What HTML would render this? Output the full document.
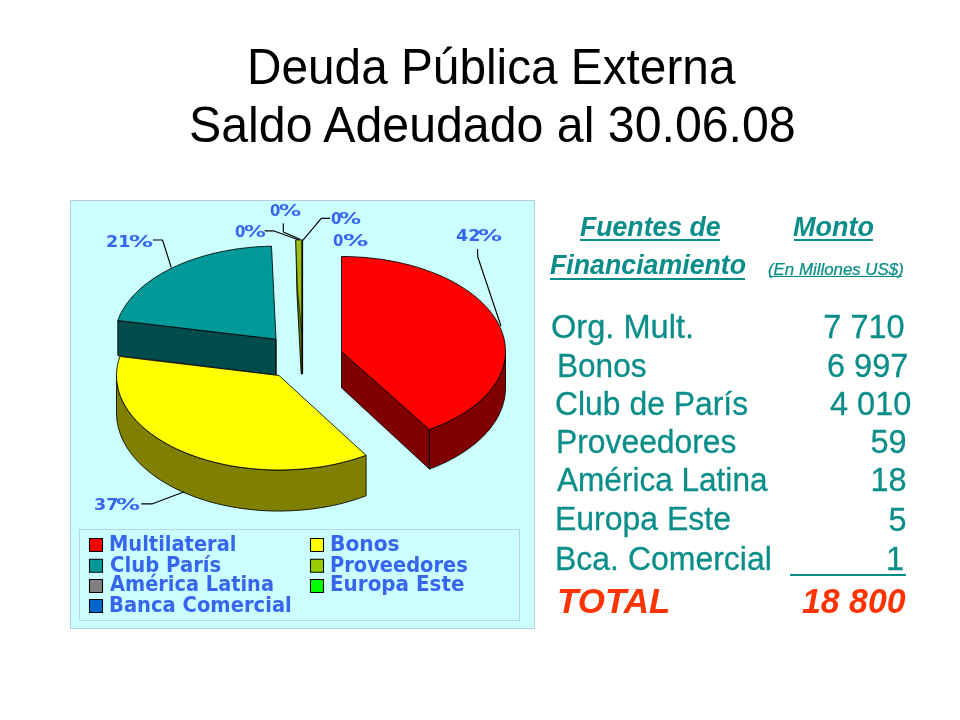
<!DOCTYPE html>
<html lang="es"><head><meta charset="utf-8"><title>Deuda Pública Externa</title>
<style>
html,body{margin:0;padding:0;background:#fff}
body{width:960px;height:720px;position:relative;overflow:hidden}
.chart{position:absolute;left:0;top:0}
.t{position:absolute;line-height:1;white-space:pre;transform-origin:0 0}
.u{position:absolute;background:#0b8e89}
</style></head><body>
<svg class="chart" width="960" height="720" viewBox="0 0 960 720">
<rect x="70.5" y="200.5" width="464" height="428" fill="#ccffff" stroke="#b9cde2"/>
<rect x="79.5" y="529.5" width="440" height="91" fill="none" stroke="#b6d6e8"/>
<g stroke="#000" stroke-width="0.85" stroke-linejoin="round">
<path d="M276.0,339.2 L117.8,320.5 L117.8,355.6 L276.0,375.0 Z" fill="#004c4c"/>
<path d="M276.0,339.2 L276.0,375.0" />
<path d="M276.0,339.2 L117.8,320.5 L118.6,318.5 L119.4,316.4 L120.3,314.4 L121.3,312.4 L122.4,310.5 L123.6,308.5 L124.8,306.5 L126.1,304.6 L127.5,302.7 L128.9,300.8 L130.5,298.9 L132.1,297.0 L133.7,295.2 L135.5,293.4 L137.3,291.6 L139.2,289.8 L141.1,288.1 L143.1,286.3 L145.2,284.6 L147.4,283.0 L149.6,281.3 L151.9,279.7 L154.2,278.1 L156.6,276.6 L159.0,275.1 L161.6,273.6 L164.1,272.1 L166.8,270.7 L169.5,269.3 L172.2,268.0 L175.0,266.6 L177.8,265.4 L180.7,264.1 L183.6,262.9 L186.6,261.7 L189.7,260.6 L192.7,259.5 L195.8,258.5 L199.0,257.5 L202.2,256.5 L205.4,255.6 L208.7,254.7 L212.0,253.8 L215.3,253.0 L218.7,252.3 L222.0,251.5 L225.5,250.9 L228.9,250.2 L232.4,249.7 L235.8,249.1 L239.3,248.6 L242.9,248.2 L246.4,247.8 L250.0,247.4 L253.5,247.1 L257.1,246.8 L260.7,246.6 L264.3,246.4 L267.9,246.3 L271.5,246.2 Z" fill="#009999"/>
<path d="M295.8,240 L302.3,240 L302.3,374 L301.2,374 L296.9,292 Z" fill="#5f7800"/>
<path d="M295.8,240 L302.3,240 L302,334 L297.6,290 Z" fill="#9dbe14" stroke-width="0.6"/>
<path d="M302.3,240 L302.3,374" stroke-width="1.6"/>
<path d="M366.1,455.3 L361.1,457.0 L356.1,458.7 L350.9,460.2 L345.7,461.7 L340.4,463.0 L335.0,464.2 L329.5,465.3 L324.0,466.3 L318.4,467.2 L312.8,467.9 L307.1,468.6 L301.4,469.1 L295.6,469.5 L289.9,469.8 L284.1,470.0 L278.3,470.0 L272.5,469.9 L266.8,469.7 L261.0,469.4 L255.3,469.0 L249.6,468.4 L243.9,467.8 L238.3,467.0 L232.7,466.1 L227.2,465.1 L221.7,463.9 L216.3,462.7 L211.0,461.3 L205.8,459.9 L200.7,458.3 L195.7,456.6 L190.8,454.9 L186.0,453.0 L181.3,451.0 L176.7,448.9 L172.3,446.8 L168.0,444.5 L163.9,442.2 L159.8,439.8 L156.0,437.2 L152.3,434.7 L148.7,432.0 L145.4,429.3 L142.2,426.5 L139.1,423.6 L136.3,420.7 L133.6,417.7 L131.1,414.7 L128.8,411.6 L126.7,408.4 L124.8,405.3 L123.0,402.1 L121.5,398.8 L120.2,395.5 L119.1,392.2 L118.1,388.9 L117.4,385.6 L116.9,382.2 L116.6,378.9 L116.5,375.5 L116.5,412.8 L116.6,416.3 L116.9,419.8 L117.4,423.3 L118.1,426.7 L119.1,430.2 L120.2,433.6 L121.5,437.0 L123.0,440.4 L124.8,443.7 L126.7,447.0 L128.8,450.3 L131.1,453.5 L133.6,456.7 L136.3,459.8 L139.1,462.8 L142.2,465.8 L145.4,468.7 L148.7,471.5 L152.3,474.3 L156.0,477.0 L159.8,479.6 L163.9,482.1 L168.0,484.6 L172.3,486.9 L176.7,489.2 L181.3,491.3 L186.0,493.4 L190.8,495.3 L195.7,497.2 L200.7,498.9 L205.8,500.5 L211.0,502.1 L216.3,503.5 L221.7,504.8 L227.2,505.9 L232.7,507.0 L238.3,507.9 L243.9,508.7 L249.6,509.4 L255.3,510.0 L261.0,510.5 L266.8,510.8 L272.5,511.0 L278.3,511.1 L284.1,511.0 L289.9,510.8 L295.6,510.5 L301.4,510.1 L307.1,509.6 L312.8,508.9 L318.4,508.1 L324.0,507.2 L329.5,506.2 L335.0,505.0 L340.4,503.8 L345.7,502.4 L350.9,500.9 L356.1,499.3 L361.1,497.6 L366.1,495.8 Z" fill="#808000"/>
<path d="M279.0,375.5 L366.1,455.3 L360.7,457.2 L355.1,459.0 L349.5,460.7 L343.7,462.2 L337.9,463.6 L331.9,464.9 L325.9,466.0 L319.8,467.0 L313.6,467.8 L307.4,468.5 L301.1,469.1 L294.9,469.5 L288.5,469.8 L282.2,470.0 L275.9,470.0 L269.6,469.8 L263.2,469.6 L256.9,469.1 L250.7,468.6 L244.5,467.8 L238.3,467.0 L232.2,466.0 L226.2,464.9 L220.2,463.6 L214.4,462.2 L208.6,460.7 L203.0,459.0 L197.4,457.2 L192.0,455.3 L186.7,453.3 L181.6,451.1 L176.6,448.9 L171.7,446.5 L167.1,444.0 L162.6,441.4 L158.2,438.7 L154.1,435.9 L150.1,433.1 L146.4,430.1 L142.8,427.1 L139.5,423.9 L136.3,420.7 L133.4,417.5 L130.7,414.1 L128.2,410.7 L126.0,407.3 L124.0,403.8 L122.2,400.3 L120.6,396.7 L119.3,393.1 L118.3,389.5 L117.5,385.8 L116.9,382.1 L116.6,378.5 L116.5,374.8 L116.7,371.1 L117.1,367.4 L117.8,363.8 L118.7,360.1 L119.8,356.5 Z" fill="#ffff00"/>
<path d="M341.5,351.5 L429.4,429.6 L429.4,469.0 L341.5,387.8 Z" fill="#800000"/>
<path d="M505.5,351.5 L505.5,353.0 L505.4,354.6 L505.3,356.1 L505.1,357.7 L504.9,359.2 L504.7,360.8 L504.4,362.3 L504.0,363.9 L503.6,365.4 L503.2,366.9 L502.7,368.5 L502.2,370.0 L501.6,371.5 L501.0,373.0 L500.3,374.5 L499.6,376.0 L498.9,377.5 L498.1,379.0 L497.3,380.5 L496.4,381.9 L495.5,383.4 L494.5,384.8 L493.5,386.3 L492.4,387.7 L491.3,389.1 L490.2,390.5 L489.0,391.9 L487.8,393.3 L486.5,394.7 L485.2,396.1 L483.9,397.4 L482.5,398.8 L481.1,400.1 L479.6,401.4 L478.1,402.7 L476.6,404.0 L475.0,405.2 L473.4,406.5 L471.7,407.7 L470.0,409.0 L468.3,410.2 L466.5,411.4 L464.7,412.5 L462.9,413.7 L461.1,414.8 L459.2,415.9 L457.2,417.0 L455.3,418.1 L453.3,419.2 L451.2,420.2 L449.2,421.3 L447.1,422.3 L445.0,423.3 L442.8,424.2 L440.7,425.2 L438.5,426.1 L436.2,427.0 L434.0,427.9 L431.7,428.8 L429.4,429.6 L429.4,469.0 L431.7,468.2 L434.0,467.3 L436.2,466.4 L438.5,465.4 L440.7,464.4 L442.8,463.5 L445.0,462.5 L447.1,461.4 L449.2,460.4 L451.2,459.3 L453.3,458.2 L455.3,457.1 L457.2,456.0 L459.2,454.8 L461.1,453.7 L462.9,452.5 L464.7,451.3 L466.5,450.1 L468.3,448.8 L470.0,447.6 L471.7,446.3 L473.4,445.0 L475.0,443.7 L476.6,442.4 L478.1,441.1 L479.6,439.7 L481.1,438.3 L482.5,437.0 L483.9,435.6 L485.2,434.2 L486.5,432.7 L487.8,431.3 L489.0,429.9 L490.2,428.4 L491.3,426.9 L492.4,425.5 L493.5,424.0 L494.5,422.5 L495.5,421.0 L496.4,419.5 L497.3,417.9 L498.1,416.4 L498.9,414.9 L499.6,413.3 L500.3,411.7 L501.0,410.2 L501.6,408.6 L502.2,407.0 L502.7,405.5 L503.2,403.9 L503.6,402.3 L504.0,400.7 L504.4,399.1 L504.7,397.5 L504.9,395.9 L505.1,394.3 L505.3,392.7 L505.4,391.0 L505.5,389.4 L505.5,387.8 Z" fill="#800000"/>
<path d="M341.5,351.5 L341.5,256.5 L348.5,256.6 L355.6,256.9 L362.6,257.3 L369.5,257.9 L376.4,258.7 L383.3,259.6 L390.1,260.8 L396.7,262.0 L403.3,263.5 L409.8,265.1 L416.1,266.9 L422.3,268.8 L428.4,270.9 L434.2,273.2 L440.0,275.5 L445.5,278.0 L450.9,280.7 L456.0,283.5 L460.9,286.4 L465.6,289.4 L470.1,292.6 L474.4,295.8 L478.4,299.2 L482.1,302.6 L485.6,306.2 L488.9,309.8 L491.8,313.5 L494.5,317.3 L496.9,321.1 L499.0,325.0 L500.8,328.9 L502.3,332.9 L503.6,336.9 L504.5,341.0 L505.1,345.0 L505.4,349.1 L505.5,353.1 L505.2,357.1 L504.6,361.1 L503.7,365.0 L502.6,368.9 L501.1,372.8 L499.3,376.7 L497.3,380.5 L494.9,384.2 L492.3,387.9 L489.4,391.5 L486.2,395.0 L482.7,398.5 L479.0,401.9 L475.1,405.2 L470.9,408.3 L466.4,411.4 L461.8,414.4 L456.9,417.2 L451.7,420.0 L446.4,422.6 L440.9,425.1 L435.2,427.4 L429.4,429.6 Z" fill="#ff0000"/>
<path d="M477.5,249 L477.8,257 L501,326" fill="none" stroke-width="1.15"/>
<path d="M153,240 L162.5,240 L171.3,267.5" fill="none" stroke-width="1.15"/>
<path d="M141.3,503.8 L152.5,503.8 L184.3,491.8" fill="none" stroke-width="1.15"/>
<path d="M264.7,230.8 L273.3,230.8 L298.3,239.7" fill="none" stroke-width="1.15"/>
<path d="M283.3,223.3 L283.3,232 L300,239.2" fill="none" stroke-width="1.15"/>
<path d="M330,218.3 L321.3,218.3 L302.8,240.3" fill="none" stroke-width="1.15"/>
<rect x="89.5" y="538.5" width="13" height="13" fill="#ff0000" stroke-width="1.1"/><rect x="89.5" y="559.2" width="13" height="13" fill="#009999" stroke-width="1.1"/><rect x="89.5" y="579.5" width="13" height="13" fill="#808080" stroke-width="1.1"/><rect x="89.5" y="599.5" width="13" height="13" fill="#0066cc" stroke-width="1.1"/><rect x="310.5" y="538.5" width="13" height="13" fill="#ffff00" stroke-width="1.1"/><rect x="310.5" y="559.2" width="13" height="13" fill="#99cc00" stroke-width="1.1"/><rect x="310.5" y="579.5" width="13" height="13" fill="#00ff00" stroke-width="1.1"/>
</g>
</svg>
<div class="u" style="left:580px;width:140.0px;top:239px;height:2px"></div><div class="u" style="left:550px;width:194.7px;top:278px;height:2px"></div><div class="u" style="left:793.5px;width:79.3px;top:239px;height:2px"></div><div class="u" style="left:768.7px;width:133.6px;top:276.3px;height:1px"></div><div class="u" style="left:790px;width:116.0px;top:573.5px;height:2px"></div>
<span class="t" style="left:247.12px;top:41.90px;color:#000;font-family:'Liberation Sans',sans-serif;font-size:50.5px;transform:scaleX(0.9456)">Deuda Pública Externa</span>
<span class="t" style="left:188.83px;top:99.70px;color:#000;font-family:'Liberation Sans',sans-serif;font-size:50.5px;transform:scaleX(0.9560)">Saldo Adeudado al 30.06.08</span>
<span class="t" style="left:580.15px;top:212.50px;color:#0b8e89;font-family:'Liberation Sans',sans-serif;font-size:28px;font-weight:bold;font-style:italic;transform:scaleX(0.9514)">Fuentes de</span>
<span class="t" style="left:549.95px;top:251.40px;color:#0b8e89;font-family:'Liberation Sans',sans-serif;font-size:28px;font-weight:bold;font-style:italic;transform:scaleX(0.9547)">Financiamiento</span>
<span class="t" style="left:793.14px;top:212.50px;color:#0b8e89;font-family:'Liberation Sans',sans-serif;font-size:28px;font-weight:bold;font-style:italic;transform:scaleX(0.9646)">Monto</span>
<span class="t" style="left:767.57px;top:260.60px;color:#0b8e89;font-family:'Liberation Sans',sans-serif;font-size:16.4px;font-style:italic;-webkit-text-stroke:0.25px #0b8e89;transform:scaleX(1.0277)">(En Millones US$)</span>
<span class="t" style="left:550.70px;top:311.30px;color:#0b8e89;font-family:'Liberation Sans',sans-serif;font-size:32.5px;-webkit-text-stroke:0.3px #0b8e89;transform:scaleX(1.0022)">Org. Mult.</span>
<span class="t" style="left:556.59px;top:349.50px;color:#0b8e89;font-family:'Liberation Sans',sans-serif;font-size:32.5px;-webkit-text-stroke:0.3px #0b8e89;transform:scaleX(0.9716)">Bonos</span>
<span class="t" style="left:554.74px;top:388.10px;color:#0b8e89;font-family:'Liberation Sans',sans-serif;font-size:32.5px;-webkit-text-stroke:0.3px #0b8e89;transform:scaleX(0.9809)">Club de París</span>
<span class="t" style="left:555.81px;top:426.10px;color:#0b8e89;font-family:'Liberation Sans',sans-serif;font-size:32.5px;-webkit-text-stroke:0.3px #0b8e89;transform:scaleX(0.9792)">Proveedores</span>
<span class="t" style="left:556.80px;top:463.90px;color:#0b8e89;font-family:'Liberation Sans',sans-serif;font-size:32.5px;-webkit-text-stroke:0.3px #0b8e89;transform:scaleX(0.9710)">América Latina</span>
<span class="t" style="left:555.45px;top:503.10px;color:#0b8e89;font-family:'Liberation Sans',sans-serif;font-size:32.5px;-webkit-text-stroke:0.3px #0b8e89;transform:scaleX(0.9839)">Europa Este</span>
<span class="t" style="left:555.45px;top:542.80px;color:#0b8e89;font-family:'Liberation Sans',sans-serif;font-size:32.5px;-webkit-text-stroke:0.3px #0b8e89;transform:scaleX(0.9842)">Bca. Comercial</span>
<span class="t" style="left:557.47px;top:583.60px;color:#ff3300;font-family:'Liberation Sans',sans-serif;font-size:35.8px;font-weight:bold;font-style:italic;transform:scaleX(0.9766)">TOTAL</span>
<span class="t" style="left:823.30px;top:311.00px;color:#0b8e89;font-family:'Liberation Sans',sans-serif;font-size:32.5px;-webkit-text-stroke:0.3px #0b8e89;transform:scaleX(1.0000)">7 710</span>
<span class="t" style="left:827.00px;top:349.50px;color:#0b8e89;font-family:'Liberation Sans',sans-serif;font-size:32.5px;-webkit-text-stroke:0.3px #0b8e89;transform:scaleX(1.0000)">6 997</span>
<span class="t" style="left:830.00px;top:388.30px;color:#0b8e89;font-family:'Liberation Sans',sans-serif;font-size:32.5px;-webkit-text-stroke:0.3px #0b8e89;transform:scaleX(1.0000)">4 010</span>
<span class="t" style="left:870.50px;top:426.10px;color:#0b8e89;font-family:'Liberation Sans',sans-serif;font-size:32.5px;-webkit-text-stroke:0.3px #0b8e89;transform:scaleX(1.0000)">59</span>
<span class="t" style="left:870.50px;top:463.90px;color:#0b8e89;font-family:'Liberation Sans',sans-serif;font-size:32.5px;-webkit-text-stroke:0.3px #0b8e89;transform:scaleX(1.0000)">18</span>
<span class="t" style="left:888.50px;top:503.50px;color:#0b8e89;font-family:'Liberation Sans',sans-serif;font-size:32.5px;-webkit-text-stroke:0.3px #0b8e89;transform:scaleX(1.0000)">5</span>
<span class="t" style="left:886.00px;top:543.20px;color:#0b8e89;font-family:'Liberation Sans',sans-serif;font-size:32.5px;-webkit-text-stroke:0.3px #0b8e89;transform:scaleX(1.0000)">1</span>
<span class="t" style="left:801.85px;top:583.80px;color:#ff3300;font-family:'Liberation Sans',sans-serif;font-size:35.8px;font-weight:bold;font-style:italic;transform:scaleX(0.9463)">18 800</span>
<span class="lab"><span class="t" style="left:455.83px;top:228.70px;color:#3766ee;font-family:'DejaVu Sans','Liberation Sans',sans-serif;font-size:15px;font-weight:bold;transform:scaleX(1.1684)">42</span><span class="t" style="left:478.40px;top:228.70px;color:#3766ee;font-family:'DejaVu Sans','Liberation Sans',sans-serif;font-size:15px;font-weight:bold;transform:scaleX(1.6000)">%</span></span>
<span class="lab"><span class="t" style="left:106.33px;top:235.00px;color:#3766ee;font-family:'DejaVu Sans','Liberation Sans',sans-serif;font-size:15px;font-weight:bold;transform:scaleX(1.1684)">21</span><span class="t" style="left:128.85px;top:235.00px;color:#3766ee;font-family:'DejaVu Sans','Liberation Sans',sans-serif;font-size:15px;font-weight:bold;transform:scaleX(1.6000)">%</span></span>
<span class="lab"><span class="t" style="left:93.83px;top:498.00px;color:#3766ee;font-family:'DejaVu Sans','Liberation Sans',sans-serif;font-size:15px;font-weight:bold;transform:scaleX(1.1684)">37</span><span class="t" style="left:116.35px;top:498.00px;color:#3766ee;font-family:'DejaVu Sans','Liberation Sans',sans-serif;font-size:15px;font-weight:bold;transform:scaleX(1.6000)">%</span></span>
<span class="lab"><span class="t" style="left:235.21px;top:225.00px;color:#3766ee;font-family:'DejaVu Sans','Liberation Sans',sans-serif;font-size:15px;font-weight:bold;transform:scaleX(0.9889)">0</span><span class="t" style="left:243.88px;top:225.00px;color:#3766ee;font-family:'DejaVu Sans','Liberation Sans',sans-serif;font-size:15px;font-weight:bold;transform:scaleX(1.4512)">%</span></span>
<span class="lab"><span class="t" style="left:269.81px;top:204.00px;color:#3766ee;font-family:'DejaVu Sans','Liberation Sans',sans-serif;font-size:15px;font-weight:bold;transform:scaleX(0.9889)">0</span><span class="t" style="left:278.59px;top:204.00px;color:#3766ee;font-family:'DejaVu Sans','Liberation Sans',sans-serif;font-size:15px;font-weight:bold;transform:scaleX(1.4719)">%</span></span>
<span class="lab"><span class="t" style="left:330.71px;top:211.70px;color:#3766ee;font-family:'DejaVu Sans','Liberation Sans',sans-serif;font-size:15px;font-weight:bold;transform:scaleX(0.9889)">0</span><span class="t" style="left:339.47px;top:211.70px;color:#3766ee;font-family:'DejaVu Sans','Liberation Sans',sans-serif;font-size:15px;font-weight:bold;transform:scaleX(1.4667)">%</span></span>
<span class="lab"><span class="t" style="left:333.21px;top:234.30px;color:#3766ee;font-family:'DejaVu Sans','Liberation Sans',sans-serif;font-size:15px;font-weight:bold;transform:scaleX(0.9889)">0</span><span class="t" style="left:343.12px;top:234.30px;color:#3766ee;font-family:'DejaVu Sans','Liberation Sans',sans-serif;font-size:15px;font-weight:bold;transform:scaleX(1.6844)">%</span></span>
<span class="t" style="left:108.85px;top:534.25px;color:#3766ee;font-family:'DejaVu Sans','Liberation Sans',sans-serif;font-size:20.5px;font-weight:bold;transform:scaleX(0.9485)">Multilateral</span>
<span class="t" style="left:109.79px;top:554.75px;color:#3766ee;font-family:'DejaVu Sans','Liberation Sans',sans-serif;font-size:20.5px;font-weight:bold;transform:scaleX(0.9583)">Club París</span>
<span class="t" style="left:110.00px;top:574.25px;color:#3766ee;font-family:'DejaVu Sans','Liberation Sans',sans-serif;font-size:20.5px;font-weight:bold;transform:scaleX(0.9448)">América Latina</span>
<span class="t" style="left:109.34px;top:595.00px;color:#3766ee;font-family:'DejaVu Sans','Liberation Sans',sans-serif;font-size:20.5px;font-weight:bold;transform:scaleX(0.9535)">Banca Comercial</span>
<span class="t" style="left:329.78px;top:534.25px;color:#3766ee;font-family:'DejaVu Sans','Liberation Sans',sans-serif;font-size:20.5px;font-weight:bold;transform:scaleX(0.9853)">Bonos</span>
<span class="t" style="left:329.86px;top:554.75px;color:#3766ee;font-family:'DejaVu Sans','Liberation Sans',sans-serif;font-size:20.5px;font-weight:bold;transform:scaleX(0.9472)">Proveedores</span>
<span class="t" style="left:329.81px;top:574.25px;color:#3766ee;font-family:'DejaVu Sans','Liberation Sans',sans-serif;font-size:20.5px;font-weight:bold;transform:scaleX(0.9722)">Europa Este</span>
</body></html>
